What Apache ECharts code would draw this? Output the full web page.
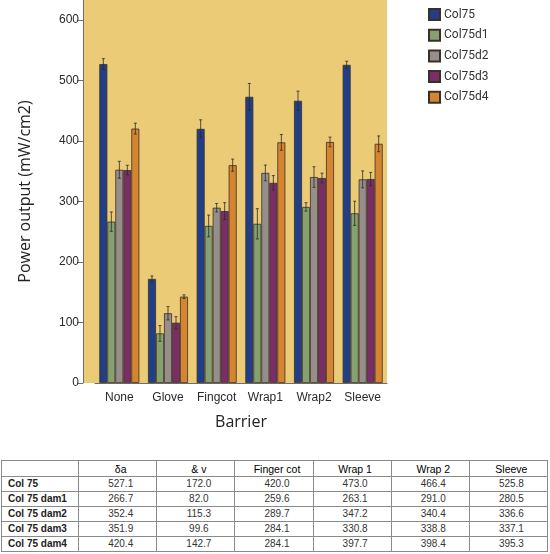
<!DOCTYPE html>
<html>
<head>
<meta charset="utf-8">
<script src="https://cdn.jsdelivr.net/npm/echarts@6/dist/echarts.min.js"></script>
<style>
  html, body { margin: 0; padding: 0; background: #fff; }
  #chart { position: absolute; left: 0; top: 0; width: 550px; height: 456px; }
  #tbl { position: absolute; left: 1px; top: 460px; width: 547px; border-collapse: collapse;
         font-family: "Liberation Sans", Arial, sans-serif; font-size: 10px; color: #333; table-layout: fixed; }
  #tbl td { border: 1px solid #8a8a8a; height: 14px; padding: 0 0 0 6px; text-align: center; line-height: 14px; white-space: nowrap; }
  #tbl td.lab { text-align: left; font-weight: bold; color: #222; }
  #tbl tr.head td { height: 15px; color: #000; font-size: 10.5px; }
</style>
</head>
<body>
<div id="chart"></div>
<table id="tbl"></table>
<script>
// ---- data ----
const categories = ['None', 'Glove', 'Fingcot', 'Wrap1', 'Wrap2', 'Sleeve'];
const seriesNames = ['Col75', 'Col75d1', 'Col75d2', 'Col75d3', 'Col75d4'];
const col75   = [527.1, 172.0, 420.0, 473.0, 466.4, 525.8];
const col75d1 = [266.7, 82.0, 259.6, 263.1, 291.0, 280.5];
const col75d2 = [352.4, 115.3, 289.7, 347.2, 340.4, 336.6];
const col75d3 = [351.9, 99.6, 284.1, 330.8, 338.8, 337.1];
const col75d4 = [420.4, 142.7, 360.0, 397.7, 398.4, 395.3];
const err75   = [9, 5, 15, 22, 16, 6];
const errD1   = [16, 13, 18, 25, 7, 20];
const errD2   = [14, 11, 7, 13, 17, 14];
const errD3   = [8, 10, 14, 12, 8, 11];
const errD4   = [9, 3, 10, 13, 8, 13];
const yTicks  = [0, 100, 200, 300, 400, 500, 600];

// table text
const tableHeaders = ['', 'δa', '&  v', 'Finger cot', 'Wrap 1', 'Wrap 2', 'Sleeve'];
const tableRowLabels = ['Col 75', 'Col 75 dam1', 'Col 75 dam2', 'Col 75 dam3', 'Col 75 dam4'];
const tRow1 = [527.1, 172.0, 420.0, 473.0, 466.4, 525.8];
const tRow2 = [266.7, 82.0, 259.6, 263.1, 291.0, 280.5];
const tRow3 = [352.4, 115.3, 289.7, 347.2, 340.4, 336.6];
const tRow4 = [351.9, 99.6, 284.1, 330.8, 338.8, 337.1];
const tRow5 = [420.4, 142.7, 284.1, 397.7, 398.4, 395.3];

const colors = ['#213F86', '#86A070', '#958E8B', '#7A2E66', '#D5852F'];
const values = [col75, col75d1, col75d2, col75d3, col75d4];
const errors = [err75, errD1, errD2, errD3, errD4];

const catGap = 0.178;

const chart = echarts.init(document.getElementById('chart'), null, { renderer: 'canvas' });

const series = [];
values.forEach((vals, i) => {
  series.push({
    name: seriesNames[i], type: 'bar', xAxisIndex: 1, yAxisIndex: 1,
    data: vals, barGap: '0%', barCategoryGap: (catGap * 100) + '%',
    itemStyle: { color: colors[i], borderColor: '#3a3028', borderWidth: 0.8 },
    emphasis: { disabled: true }, z: 2
  });
});
values.forEach((vals, i) => {
  series.push({
    type: 'custom', xAxisIndex: 1, yAxisIndex: 1, z: 5, silent: true,
    data: vals.map((v, k) => [k, v, errors[i][k]]),
    renderItem: function (params, api) {
      const k = api.value(0), v = api.value(1), e = api.value(2);
      const band = api.size([1, 0])[0];
      const bw = band * (1 - catGap) / 5;
      const c = api.coord([k, v]);
      const x = c[0] + (i - 2) * bw;
      const top = api.coord([k, v + e])[1];
      const bot = api.coord([k, v - e])[1];
      const cap = 1.5;
      const st = { stroke: '#2b2b2b', lineWidth: 0.8 };
      return { type: 'group', children: [
        { type: 'line', shape: { x1: x, y1: top, x2: x, y2: bot }, style: st },
        { type: 'line', shape: { x1: x - cap, y1: top, x2: x + cap, y2: top }, style: st },
        { type: 'line', shape: { x1: x - cap, y1: bot, x2: x + cap, y2: bot }, style: st }
      ]};
    }
  });
});

chart.setOption({
  animation: false,
  backgroundColor: '#ffffff',
  textStyle: { fontFamily: 'Liberation Sans' },
  legend: {
    orient: 'vertical', left: 428, top: 8, padding: 0,
    itemWidth: 11, itemHeight: 11, itemGap: 7.7,
    data: seriesNames,
    icon: 'rect',
    textStyle: { fontFamily: 'Roboto', fontSize: 12, color: '#333', padding: [0, 0, 0, -1] },
    selectedMode: false
  },
  grid: [
    { left: 83, top: 0, width: 304, height: 383, show: true, backgroundColor: '#EBCB76', borderWidth: 0 },
    { left: 95, top: 0, width: 292, height: 383 }
  ],
  xAxis: [
    { gridIndex: 0, type: 'value', show: false, min: 0, max: 1 },
    { gridIndex: 1, type: 'category', data: categories,
      axisLine: { lineStyle: { color: '#6e6e6e', width: 1 } },
      axisTick: { alignWithLabel: true, length: 5, lineStyle: { color: '#6e6e6e' } },
      axisLabel: { interval: 0, fontSize: 12, color: '#2a2a2a', margin: 9, fontFamily: 'Liberation Sans' },
      name: 'Barrier', nameLocation: 'middle', nameGap: 31,
      nameTextStyle: { fontSize: 16, color: '#222', fontFamily: 'Open Sans' } }
  ],
  yAxis: [
    { gridIndex: 0, type: 'value', show: false, min: 0, max: 1 },
    { gridIndex: 1, type: 'value', min: 0, max: 633, interval: 100, offset: 12,
      axisLine: { show: true, lineStyle: { color: '#6e6e6e', width: 1 } },
      axisTick: { show: true, length: 6, lineStyle: { color: '#6e6e6e' } },
      splitLine: { show: false },
      axisLabel: { fontSize: 12, color: '#2a2a2a', margin: 4, showMaxLabel: false,
        formatter: v => (yTicks.indexOf(v) >= 0 ? String(v) : '') },
      name: 'Power output (mW/cm2)', nameLocation: 'middle', nameGap: 50, nameRotate: 90,
      nameTextStyle: { fontSize: 16, color: '#222', fontFamily: 'Open Sans' } }
  ],
  series: series
});

// table
const tbl = document.getElementById('tbl');
const rows = [tRow1, tRow2, tRow3, tRow4, tRow5];
let html = '<colgroup><col style="width:77px">' + '<col style="width:78px">'.repeat(6) + '</colgroup>';
html += '<tr class="head">' + tableHeaders.map(h => '<td>' + h + '</td>').join('') + '</tr>';
rows.forEach((r, i) => {
  html += '<tr><td class="lab">' + tableRowLabels[i] + '</td>' + r.map(v => '<td>' + v.toFixed(1) + '</td>').join('') + '</tr>';
});
tbl.innerHTML = html;
</script>
</body>
</html>
